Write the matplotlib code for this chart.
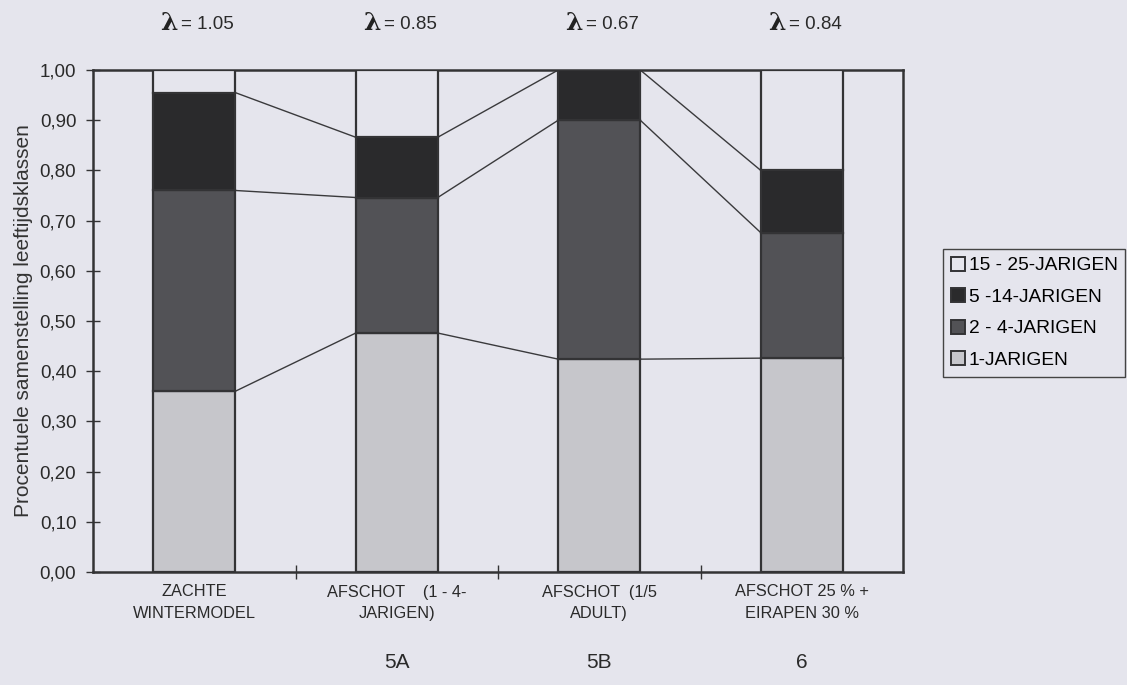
import numpy as np
import matplotlib
matplotlib.use("Agg")
import matplotlib.pyplot as plt
import matplotlib.transforms as mtransforms
from matplotlib.patches import Patch

plt.rcParams['font.family'] = ['Liberation Sans', 'DejaVu Sans']

### data ###
categories = ["ZACHTE\nWINTERMODEL", "AFSCHOT    (1 - 4-\nJARIGEN)",
              "AFSCHOT  (1/5\nADULT)", "AFSCHOT 25 % +\nEIRAPEN 30 %"]
lambdas = ["1.05", "0.85", "0.67", "0.84"]
scenario_codes = ["", "5A", "5B", "6"]
classes = ["1-JARIGEN", "2 - 4-JARIGEN", "5 -14-JARIGEN", "15 - 25-JARIGEN"]

jarigen_1 = [0.360, 0.476, 0.424, 0.426]
jarigen_2_4 = [0.400, 0.270, 0.476, 0.250]
jarigen_5_14 = [0.195, 0.120, 0.100, 0.124]
jarigen_15_25 = [0.045, 0.134, 0.000, 0.200]

### style ###
bg = '#e5e5ed'
fills = ['#c6c6cb', '#525256', '#2a2a2c', bg]
edge = '#333335'
bar_width = 0.405

fig = plt.figure(figsize=(11.27, 6.85), dpi=100, facecolor=bg)
ax = fig.add_axes([93 / 1127, 113 / 685, 810 / 1127, 502 / 685])
ax.set_facecolor(bg)

x = np.arange(len(categories))
series = [jarigen_1, jarigen_2_4, jarigen_5_14, jarigen_15_25]
bottom = np.zeros(len(categories))
cum = []
for vals, fc in zip(series, fills):
    vals = np.array(vals)
    ax.bar(x, vals, bar_width, bottom=bottom, color=fc, edgecolor=edge,
           linewidth=1.6, zorder=3)
    bottom = bottom + vals
    cum.append(bottom.copy())

## series lines between the bars
for c in cum[:3]:
    for i in range(len(x) - 1):
        ax.plot([x[i] + bar_width / 2, x[i + 1] - bar_width / 2],
                [c[i], c[i + 1]], color='#3a3a3c', lw=1.0, zorder=2)

ax.set_xlim(-0.5, 3.5)
ax.set_ylim(0, 1.0)
for s in ax.spines.values():
    s.set_color(edge)
    s.set_linewidth(1.8)

ax.set_yticks(np.arange(0, 1.01, 0.1))
ax.set_yticklabels([f"{v:.2f}".replace('.', ',') for v in np.arange(0, 1.01, 0.1)],
                   fontsize=13.5, color='#2a2a2a')
ax.tick_params(axis='y', direction='inout', length=10, width=1, color=edge, pad=7)

ax.set_xticks([0.5, 1.5, 2.5], minor=True)
ax.set_xticks(x)
ax.set_xticklabels(categories, fontsize=11.8, color='#2a2a2a', linespacing=1.55)
ax.tick_params(axis='x', which='major', length=0, pad=9)
ax.tick_params(axis='x', which='minor', direction='inout', length=10, width=1, color=edge)

ax.set_ylabel("Procentuele samenstelling leeftijdsklassen", fontsize=15,
              color='#333333', labelpad=5)

## lambda labels above the bars and scenario codes below
trans = mtransforms.blended_transform_factory(ax.transData, ax.transAxes)
for i, lam in enumerate(lambdas):
    ax.text(x[i] - 0.08, 1.094, "λ", transform=trans, ha='right', va='center',
            fontsize=18, family='DejaVu Serif', fontweight='bold', color='#222222')
    ax.text(x[i] - 0.065, 1.09, f"= {lam}", transform=trans, ha='left', va='center',
            fontsize=13.5, color='#2a2a2a')
for i, code in enumerate(scenario_codes):
    if code:
        ax.text(x[i], -0.18, code, transform=trans, ha='center', va='center',
                fontsize=15, color='#2a2a2a')

## legend
handles = [Patch(facecolor=fills[k], edgecolor=edge, linewidth=1.4, label=classes[k])
           for k in [3, 2, 1, 0]]
fig.legend(handles=handles, loc='upper left', bbox_to_anchor=(943 / 1127, 1 - 249 / 685),
           fontsize=13.8, frameon=True, fancybox=False, edgecolor='#444444',
           facecolor=bg, framealpha=1, handlelength=0.75, handleheight=0.75,
           handletextpad=0.2, labelspacing=0.72, borderpad=0.4, borderaxespad=0)

plt.savefig("out.png", dpi=100, facecolor=bg)
